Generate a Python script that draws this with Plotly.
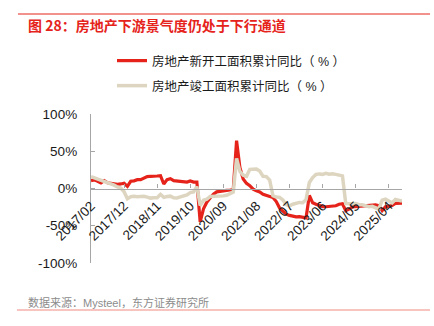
import plotly.graph_objects as go

# Monthly year-to-date figures (January is merged into February in the statistics)
months = [f"{y}/{m:02d}" for y in range(2017, 2026) for m in range(2, 13)]
months = months[: months.index("2025/08") + 1]

new_starts = [
    10.4, 11.6, 9.8, 7.6, 10.6, 7.6, 6.9, 5.9, 5.6, 6.1, 7.0,            # 2017
    2.9, 9.7, 10.3, 11.8, 11.8, 14.4, 15.9, 16.4, 16.3, 16.8, 17.2,      # 2018
    6.0, 11.9, 13.1, 10.5, 10.1, 9.5, 8.9, 8.6, 10.0, 8.6, 8.5,          # 2019
    -44.9, -27.2, -18.4, -12.8, -7.6, -4.5, -3.6, -3.4, -2.6, -2.0, -1.2,  # 2020
    64.3, 28.2, 12.8, 6.9, 3.8, -0.9, -3.2, -4.5, -7.7, -9.1, -11.4,     # 2021
    -12.2, -17.5, -26.3, -30.6, -34.4, -36.1, -37.2, -38.0, -37.8, -38.9, -39.4,  # 2022
    -9.4, -19.2, -21.2, -22.6, -24.3, -24.5, -24.4, -23.4, -23.2, -21.2, -20.4,   # 2023
    -29.7, -27.8, -24.6, -24.2, -23.7, -23.2, -22.5, -22.2, -22.6, -22.0, -23.0,  # 2024
    -29.6, -24.4, -23.8, -22.8, -20.0, -19.4, -19.5,                      # 2025
]

completions = [
    16.0, 14.5, 12.6, 10.8, 10.0, 8.5, 6.5, 4.5, 2.0, 0.5, -4.4,         # 2017
    -13.7, -11.1, -10.5, -11.1, -10.6, -10.5, -11.6, -12.9, -12.5, -12.3, -7.8,  # 2018
    -11.9, -10.8, -10.3, -12.4, -12.7, -11.3, -10.0, -8.6, -5.5, -4.5, 2.6,      # 2019
    -22.9, -15.8, -14.5, -10.6, -10.5, -11.0, -10.8, -9.9, -9.2, -7.3, -4.9,     # 2020
    40.4, 22.9, 17.9, 16.4, 25.7, 25.7, 26.0, 23.4, 16.3, 16.0, 11.2,            # 2021
    -9.8, -11.5, -11.9, -15.3, -21.5, -23.3, -21.1, -19.9, -18.7, -19.0, -15.0,  # 2022
    8.0, 14.7, 18.8, 19.6, 19.0, 20.5, 19.2, 19.8, 19.0, 17.9, 17.0,             # 2023
    -20.2, -20.7, -20.4, -20.1, -21.8, -21.8, -23.6, -24.4, -23.9, -26.0, -27.7, # 2024
    -15.6, -14.3, -16.9, -19.3, -14.8, -16.5, -17.0,                             # 2025
]

x_tick_labels = ["2017/02", "2017/12", "2018/11", "2019/10", "2020/09",
                 "2021/08", "2022/07", "2023/06", "2024/05", "2025/04"]
y_tick_values = [-100, -50, 0, 50, 100]
y_tick_labels = [f"{v}%" for v in y_tick_values]

series_names = ["房地产新开工面积累计同比（ % ）", "房地产竣工面积累计同比（ % ）"]
title_text = "图 28：房地产下游景气度仍处于下行通道"
source_text = "数据来源：Mysteel，东方证券研究所"

RED = "#E5231B"
BEIGE = "#DDD5BF"
AXIS_GREY = "#A6A6A6"
FONT = "Liberation Sans, Arial, Noto Sans CJK SC, sans-serif"

W, H = 434, 326
ML, MR, MT, MB = 91, 32, 114, 63
PW, PH = W - ML - MR, H - MT - MB


def fx(px):
    return (px - ML) / PW


def fy(py):
    return (H - MB - py) / PH


fig = go.Figure()
fig.add_trace(go.Scatter(x=months, y=new_starts, mode="lines", name=series_names[0],
                         line=dict(color=RED, width=3.2), legend="legend"))
fig.add_trace(go.Scatter(x=months, y=completions, mode="lines", name=series_names[1],
                         line=dict(color=BEIGE, width=3.5), legend="legend2"))

legend_common = dict(xanchor="left", yanchor="middle", bgcolor="rgba(0,0,0,0)",
                     borderwidth=0, font=dict(family=FONT, size=12.5, color="#1a1a1a"))

fig.update_layout(
    width=W, height=H,
    margin=dict(l=ML, r=MR, t=MT, b=MB, pad=0),
    paper_bgcolor="white", plot_bgcolor="white",
    font=dict(family=FONT, color="#1a1a1a"),
    showlegend=True,
    legend=dict(x=fx(112), y=fy(61), **legend_common),
    legend2=dict(x=fx(112), y=fy(86), **legend_common),
    xaxis=dict(
        type="category", range=[0, len(months) - 1],
        anchor="free", position=0.5,
        showline=True, linecolor=AXIS_GREY, linewidth=1.3,
        ticks="inside", ticklen=4, tickcolor=AXIS_GREY, tickwidth=1.3,
        tickmode="array", tickvals=x_tick_labels, ticktext=x_tick_labels,
        tickangle=-45, tickfont=dict(family=FONT, size=13.5, color="#1a1a1a"),
        ticklabelstandoff=3,
        showgrid=False, zeroline=False,
    ),
    yaxis=dict(
        range=[-100, 100],
        showline=True, linecolor=AXIS_GREY, linewidth=1.3,
        ticks="inside", ticklen=4, tickcolor=AXIS_GREY, tickwidth=1.3,
        tickmode="array", tickvals=y_tick_values, ticktext=y_tick_labels,
        tickfont=dict(family=FONT, size=13.5, color="#1a1a1a"),
        ticklabelstandoff=10,
        showgrid=False, zeroline=False,
    ),
    shapes=[
        dict(type="line", xref="paper", yref="paper",
             x0=fx(18), x1=fx(430), y0=fy(14), y1=fy(14),
             line=dict(color=RED, width=1)),
        dict(type="line", xref="paper", yref="paper",
             x0=fx(17), x1=fx(430), y0=fy(310), y1=fy(310),
             line=dict(color="#F08A80", width=1.2)),
    ],
    annotations=[
        dict(text=f"<b>{title_text}</b>", xref="paper", yref="paper",
             x=fx(26), y=fy(25), xanchor="left", yanchor="middle", showarrow=False,
             font=dict(family="Noto Sans CJK SC, sans-serif", size=14, color=RED)),
        dict(text=source_text, xref="paper", yref="paper",
             x=fx(26), y=fy(302), xanchor="left", yanchor="middle", showarrow=False,
             font=dict(family=FONT, size=11, color="#8C8C8C")),
    ],
)

fig.write_html("out.html")
